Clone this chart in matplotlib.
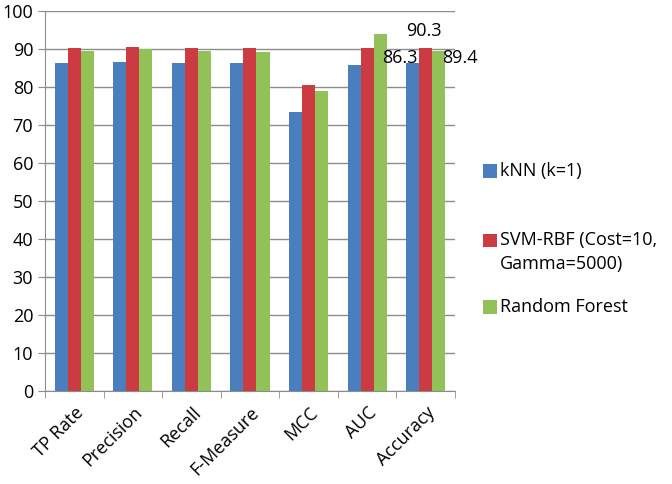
import numpy as np
import matplotlib.pyplot as plt
from matplotlib.patches import Rectangle
from matplotlib.legend_handler import HandlerPatch

plt.rcParams['font.family'] = ['Open Sans', 'DejaVu Sans']

# metric names along the x axis
metrics = ['TP Rate', 'Precision', 'Recall', 'F-Measure', 'MCC', 'AUC', 'Accuracy']
# scores per classifier (percent)
knn = [86.3, 86.7, 86.3, 86.3, 73.5, 85.9, 86.3]
svm = [90.3, 90.5, 90.3, 90.3, 80.5, 90.3, 90.3]
rf = [89.4, 90.0, 89.4, 89.3, 78.9, 94.1, 89.4]
names = ['kNN (k=1)', 'SVM-RBF (Cost=10,\nGamma=5000)', 'Random Forest']
colors = ['#4A7EBF', '#CC3B42', '#92C257']

fs = 13
fig = plt.figure(figsize=(6.72, 4.84), dpi=100)
ax = fig.add_axes([0.067, 0.192, 0.61, 0.785])

x = np.arange(len(metrics))
w = 1 / 4.5  # excel-style gap width 150%
bars = []
for i, (vals, c) in enumerate(zip([knn, svm, rf], colors)):
    b = ax.bar(x + (i - 1) * w, vals, width=w, color=c, zorder=3)
    bars.append(b)

ax.set_ylim(0, 100)
ax.set_xlim(-0.5, len(metrics) - 0.5)
ax.set_yticks(range(0, 101, 10))
ax.yaxis.grid(True, color='#8c8c8c', linewidth=1, zorder=0)
ax.set_axisbelow(True)
for s in ['top', 'right']:
    ax.spines[s].set_visible(False)
ax.spines['left'].set_color('#8c8c8c')
ax.spines['bottom'].set_color('#8c8c8c')
ax.tick_params(axis='y', length=5, color='#8c8c8c', labelsize=fs, pad=3.5)
ax.set_xticks(np.arange(len(metrics) + 1) - 0.5, minor=True)
ax.set_xticks(x)
ax.set_xticklabels(metrics, rotation=45, ha='right', rotation_mode='anchor', fontsize=fs)
ax.tick_params(axis='x', which='major', length=0, pad=9)
ax.tick_params(axis='x', which='minor', length=5, color='#8c8c8c')

# data labels on the accuracy group
last = len(metrics) - 1
ax.annotate(f'{knn[last]}', (x[last] - w, knn[last]), xytext=(-9, 4),
            textcoords='offset points', ha='center', va='center', fontsize=fs)
ax.annotate(f'{svm[last]}', (x[last], svm[last]), xytext=(-1, 12.5),
            textcoords='offset points', ha='center', va='center', fontsize=fs)
ax.annotate(f'{rf[last]}', (x[last] + w, rf[last]), xytext=(15, -4.5),
            textcoords='offset points', ha='center', va='center', fontsize=fs)


def low_square(legend, orig_handle, xdescent, ydescent, width, height, fontsize):
    # square sitting a little lower, next to the first text line
    return Rectangle((-xdescent, -ydescent - 2), width, height)


# one legend per series so the uneven excel spacing can be kept
leg_y = [0.666, 0.523, 0.385]
for b, name, y in zip(bars, names, leg_y):
    leg = fig.legend([b[0]], [name], loc='upper left', bbox_to_anchor=(0.719, y),
                     frameon=False, fontsize=fs, borderpad=0, borderaxespad=0,
                     handlelength=0.75, handleheight=0.75, handletextpad=0.2,
                     handler_map={b[0]: HandlerPatch(patch_func=low_square)})
    for t in leg.get_texts():
        t.set_linespacing(1.45)
    for col in leg._legend_handle_box.get_children():
        for row in col.get_children():
            row.align = 'top'

fig.savefig('out.png', dpi=100)
